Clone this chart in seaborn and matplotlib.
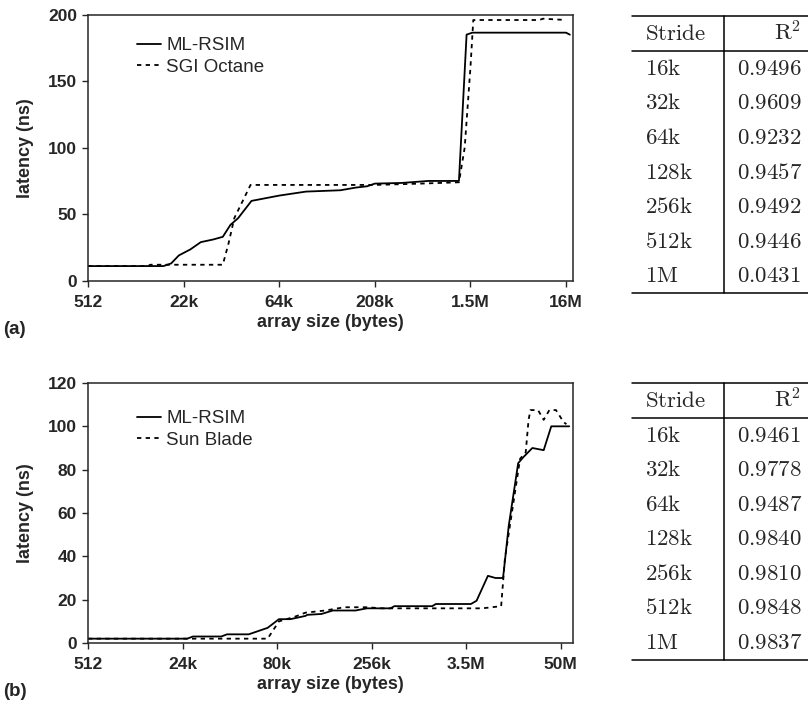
import numpy as np
import pandas as pd
import seaborn as sns
import matplotlib.pyplot as plt
from matplotlib.lines import Line2D

# DATA (x = position along the evenly spaced array-size axis, 10 units per tick)
a_tick_labels = ['512', '22k', '64k', '208k', '1.5M', '16M']
a_rsim_x = [0, 7.9, 8.7, 9.5, 10.7, 11.8, 13.1, 14.1, 14.9, 15.7, 17.1, 20, 22.8, 26.4, 28, 29.2,
            30, 32.8, 35.6, 38.8, 39.6, 40.2, 50, 50.4]
a_rsim_y = [11, 11, 13, 19, 23.5, 29, 31, 33, 42, 47, 60, 64, 67, 68, 70, 71,
            73, 73.5, 75, 75, 185, 186.5, 186.5, 185]
a_sgi_x = [0, 6.3, 6.5, 14.1, 14.7, 15.3, 17, 30, 34.8, 38.8, 39.4, 40, 40.3, 47.2, 47.6, 50]
a_sgi_y = [11, 11, 12, 12, 28, 47, 72, 72, 73, 74, 100, 160, 196, 196, 197, 196]

b_tick_labels = ['512', '24k', '80k', '256k', '3.5M', '50M']
b_rsim_x = [0, 10.5, 11.1, 14.1, 14.7, 17, 19, 20.2, 21.4, 23, 23.2, 24.7, 25.9, 28.3, 29.5, 32,
            32.4, 36.4, 36.8, 40.5, 41.1, 42.3, 43.1, 43.9, 44.5, 45.5, 46.1, 47, 48.2, 49, 50.9]
b_rsim_y = [2, 2, 3, 3, 4, 4, 7, 11, 11, 12.5, 13, 13.4, 15, 15, 16, 16,
            17, 17, 18, 18, 19.5, 31, 30, 30, 54, 83, 86, 90, 89, 100, 100]
b_sun_x = [0, 19, 20.2, 21.8, 23, 25.1, 27.1, 29.5, 31.1, 41.7, 43.7, 44.1, 44.9, 45.7, 46.3,
           46.6, 46.8, 47.6, 48.2, 48.8, 49.5, 50.3, 50.6]
b_sun_y = [2, 2, 10, 12, 14, 15, 16.5, 16.5, 16, 16, 17, 39, 62, 85, 88,
           103, 107.5, 107.5, 103, 107.5, 107.5, 102, 101]

strides = ['16k', '32k', '64k', '128k', '256k', '512k', '1M']
a_r2 = ['0.9496', '0.9609', '0.9232', '0.9457', '0.9492', '0.9446', '0.0431']
b_r2 = ['0.9461', '0.9778', '0.9487', '0.9840', '0.9810', '0.9848', '0.9837']

sns.set_style('ticks')
plt.rcParams['font.family'] = ['Liberation Sans', 'DejaVu Sans']
plt.rcParams['mathtext.fontset'] = 'cm'

W, H = 808, 708
fig = plt.figure(figsize=(W / 100, H / 100), dpi=100)


def fx(px):
    return px / W


def fy(py):
    return 1 - py / H


def panel(ax, sim_x, sim_y, ref_name, ref_x, ref_y, ticklabels, xmax, ymax, ystep, leg_y):
    df = pd.concat([
        pd.DataFrame({'x': sim_x, 'y': sim_y, 'series': 'ML-RSIM'}),
        pd.DataFrame({'x': ref_x, 'y': ref_y, 'series': ref_name}),
    ])
    sns.lineplot(data=df, x='x', y='y', style='series', color='black', estimator=None,
                 dashes={'ML-RSIM': '', ref_name: (2.4, 2.4)}, linewidth=1.3, ax=ax)
    ax.set_xlim(0, xmax)
    ax.set_ylim(0, ymax)
    ax.set_xticks(np.arange(0, 51, 10))
    ax.set_xticklabels(ticklabels)
    ax.set_yticks(np.arange(0, ymax + 1, ystep))
    ax.tick_params(axis='both', direction='out', length=4.5, width=1, labelsize=12.5)
    ax.tick_params(axis='x', pad=5.5)
    ax.tick_params(axis='y', pad=3.5)
    for lab in ax.get_xticklabels() + ax.get_yticklabels():
        lab.set_fontweight('bold')
    for sp in ax.spines.values():
        sp.set_visible(True)
        sp.set_linewidth(1.1)
    ax.set_xlabel('array size (bytes)', fontsize=13, fontweight='bold', labelpad=3)
    ax.set_ylabel('latency (ns)', fontsize=13, fontweight='bold', labelpad=10)
    h, l = ax.get_legend_handles_labels()
    ax.legend(h, l, loc='upper left', bbox_to_anchor=(0.1, leg_y), frameon=False,
              fontsize=13.5, handlelength=1.3, handletextpad=0.3, labelspacing=0.22,
              borderpad=0, borderaxespad=0)


ax1 = fig.add_axes([fx(88), fy(280.7), fx(573) - fx(88), fy(14.7) - fy(280.7)])
panel(ax1, a_rsim_x, a_rsim_y, 'SGI Octane', a_sgi_x, a_sgi_y, a_tick_labels, 50.73, 200, 50, 0.915)

ax2 = fig.add_axes([fx(88), fy(643), fx(573) - fx(88), fy(383) - fy(643)])
panel(ax2, b_rsim_x, b_rsim_y, 'Sun Blade', b_sun_x, b_sun_y, b_tick_labels, 51.3, 120, 20, 0.895)

fig.text(fx(3), fy(329), '(a)', fontsize=13.5, fontweight='bold', va='center', ha='left')
fig.text(fx(3), fy(691), '(b)', fontsize=13.5, fontweight='bold', va='center', ha='left')


def table(top, head_rule, row_h, values):
    bottom = head_rule + row_h * len(strides)
    for yy in [top, head_rule, bottom]:
        fig.add_artist(Line2D([fx(632), 1], [fy(yy), fy(yy)], color='black', lw=1.1,
                              transform=fig.transFigure))
    fig.add_artist(Line2D([fx(724), fx(724)], [fy(top), fy(bottom)], color='black', lw=1.1,
                          transform=fig.transFigure))
    hy = (top + head_rule) / 2
    fig.text(fx(645), fy(hy), r'$\mathrm{Stride}$', fontsize=16.5, va='center', ha='left')
    fig.text(fx(801), fy(hy), r'$\mathrm{R}^2$', fontsize=16.5, va='center', ha='right')
    for i, (s, v) in enumerate(zip(strides, values)):
        ry = head_rule + row_h * (i + 0.5)
        fig.text(fx(645), fy(ry), r'$\mathrm{%s}$' % s, fontsize=16.5, va='center', ha='left')
        fig.text(fx(737), fy(ry), r'$\mathrm{%s}$' % v, fontsize=16.5, va='center', ha='left')


table(15.7, 51, 34.6, a_r2)
table(382.7, 418, 34.5, b_r2)

fig.savefig('out.png', dpi=100)
